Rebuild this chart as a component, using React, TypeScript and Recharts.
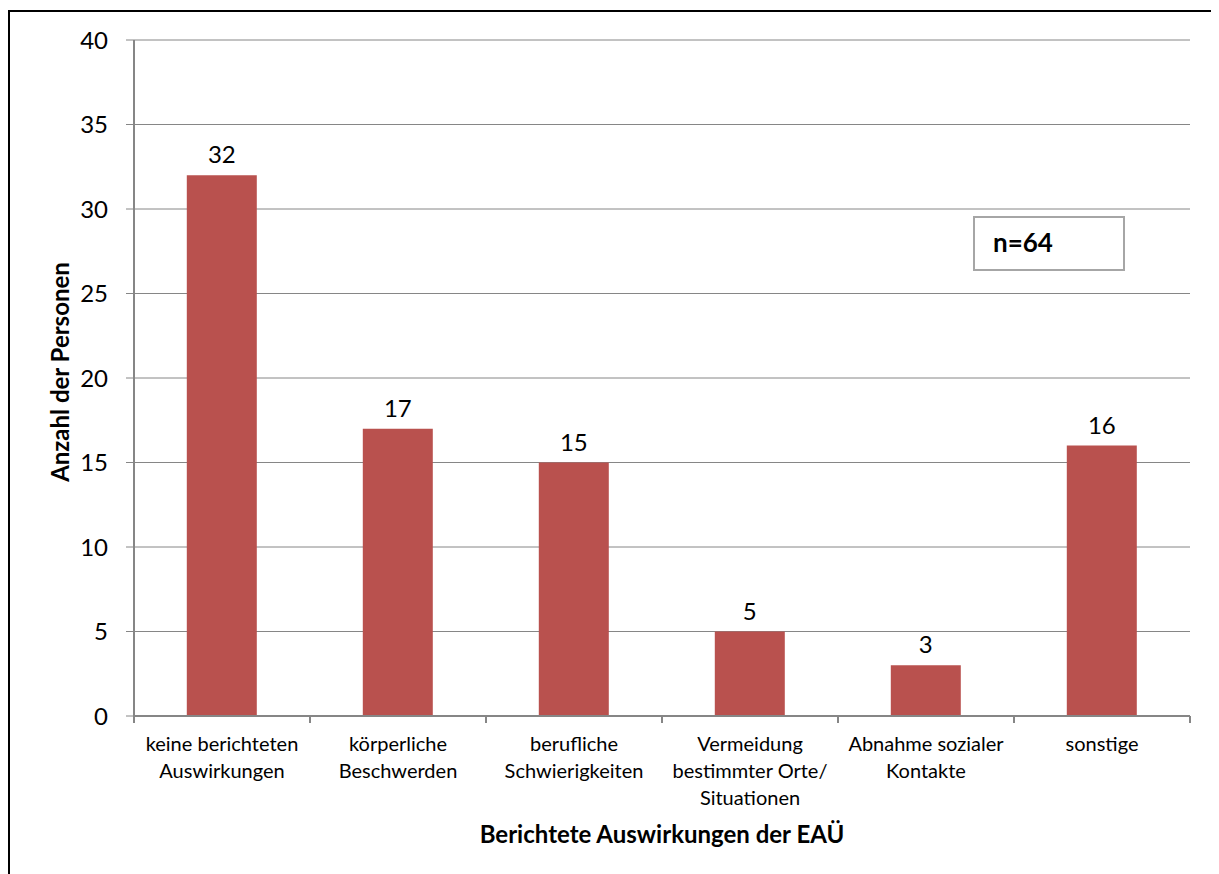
import React from 'react';
import { BarChart, Bar, XAxis, YAxis, CartesianGrid, LabelList, Label } from 'recharts';

const categories = [
  'keine berichteten\nAuswirkungen',
  'körperliche\nBeschwerden',
  'berufliche\nSchwierigkeiten',
  'Vermeidung\nbestimmter Orte/\nSituationen',
  'Abnahme sozialer\nKontakte',
  'sonstige',
];
const counts = [32, 17, 15, 5, 3, 16];
const yTicks = [0, 5, 10, 15, 20, 25, 30, 35, 40];

const xTitle = 'Berichtete Auswirkungen der EAÜ';
const yTitle = 'Anzahl der Personen';
const sampleNote = 'n=64';

const data = categories.map((name, i) => ({ name, value: counts[i] }));

const FONT = 'Lato, "Liberation Sans", sans-serif';
const AXIS_GRAY = '#868686';
const BAR_RED = '#B9514E';

const CategoryTick = (props: any) => {
  const { x, y, payload, index } = props;
  const half = payload && payload.offset ? payload.offset : 0;
  const lines = String(payload.value).split('\n');
  const isLast = index === categories.length - 1;
  return (
    <g>
      <line x1={x - half} x2={x - half} y1={y} y2={y + 7} stroke={AXIS_GRAY} strokeWidth={2} />
      {isLast && <line x1={x + half} x2={x + half} y1={y} y2={y + 7} stroke={AXIS_GRAY} strokeWidth={2} />}
      <text x={x} y={y} textAnchor="middle" fontSize={20} fill="#000" fontFamily={FONT}>
        {lines.map((l, i) => (
          <tspan key={i} x={x} dy={i === 0 ? 35 : 27}>
            {l}
          </tspan>
        ))}
      </text>
    </g>
  );
};

export default function App() {
  return (
    <div
      style={{
        position: 'relative',
        marginTop: 2,
        width: 1206,
        height: 870,
        border: '2px solid #000',
        fontFamily: FONT,
        background: '#fff',
      }}
    >
      <BarChart
        width={1206}
        height={860}
        data={data}
        margin={{ top: 28, right: 26, left: 24, bottom: 16 }}
        barCategoryGap="30%"
      >
        <CartesianGrid vertical={false} stroke={AXIS_GRAY} strokeWidth={1} />
        <XAxis
          dataKey="name"
          height={140}
          interval={0}
          tickSize={0}
          tickMargin={0}
          axisLine={{ stroke: AXIS_GRAY, strokeWidth: 2 }}
          tickLine={false}
          tick={<CategoryTick />}
        >
          <Label
            content={(p: any) => {
              const vb = p.viewBox;
              return (
                <text
                  x={vb.x + vb.width / 2}
                  y={vb.y + 127}
                  textAnchor="middle"
                  fontSize={24}
                  fontWeight="bold"
                  fill="#000"
                  fontFamily={FONT}
                >
                  {xTitle}
                </text>
              );
            }}
          />
        </XAxis>
        <YAxis
          width={100}
          domain={[0, 40]}
          ticks={yTicks}
          interval={0}
          tickSize={8}
          tickMargin={18}
          axisLine={{ stroke: AXIS_GRAY, strokeWidth: 2 }}
          tickLine={{ stroke: AXIS_GRAY, strokeWidth: 1 }}
          tick={{ fill: '#000', fontSize: 24, fontFamily: FONT }}
        >
          <Label
            content={(p: any) => {
              const vb = p.viewBox;
              const cx = vb.x + 25;
              const cy = vb.y + vb.height / 2 - 6;
              return (
                <text
                  x={cx}
                  y={cy}
                  transform={`rotate(-90, ${cx}, ${cy})`}
                  textAnchor="middle"
                  dominantBaseline="central"
                  fontSize={24}
                  fontWeight="bold"
                  fill="#000"
                  fontFamily={FONT}
                >
                  {yTitle}
                </text>
              );
            }}
          />
        </YAxis>
        <Bar dataKey="value" fill={BAR_RED} isAnimationActive={false}>
          <LabelList dataKey="value" position="top" offset={12} fill="#000" fontSize={24} fontFamily={FONT} />
        </Bar>
      </BarChart>
      <div
        style={{
          position: 'absolute',
          left: 963,
          top: 204,
          width: 148,
          height: 51,
          border: '2px solid #a6a6a6',
          boxSizing: 'content-box',
        }}
      >
        <span
          style={{
            position: 'absolute',
            left: 18,
            top: 10,
            fontSize: 26,
            fontWeight: 'bold',
            lineHeight: '28px',
            color: '#000',
          }}
        >
          {sampleNote}
        </span>
      </div>
    </div>
  );
}
